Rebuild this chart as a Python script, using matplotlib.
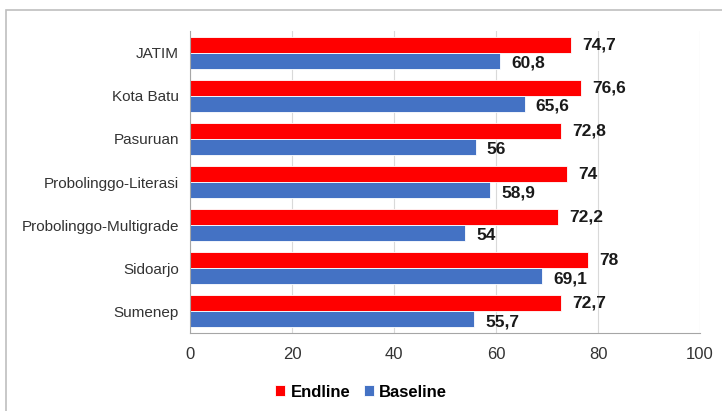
import numpy as np
import matplotlib.pyplot as plt
from matplotlib.patches import Rectangle

plt.rcParams['font.family'] = ['Liberation Sans', 'DejaVu Sans']

categories = ['JATIM', 'Kota Batu', 'Pasuruan', 'Probolinggo-Literasi',
              'Probolinggo-Multigrade', 'Sidoarjo', 'Sumenep']
endline = [74.7, 76.6, 72.8, 74, 72.2, 78, 72.7]
baseline = [60.8, 65.6, 56, 58.9, 54, 69.1, 55.7]

red = '#ff0000'
blue = '#4472c4'

fig = plt.figure(figsize=(7.22, 4.11), dpi=100)
# outer frame of the original picture
fig.patches.append(Rectangle((6/722, -0.1), 1.2, 1 - 10/411 + 0.1, transform=fig.transFigure,
                             fill=False, edgecolor='#bfbfbf', linewidth=1.2))
ax = fig.add_axes([190/722, 1 - 333/411, 510/722, 302/411])

y = np.arange(len(categories))
h = 0.37
b1 = ax.barh(y - h/2, endline, height=h, color=red, edgecolor='white', linewidth=0.6, label='Endline')
b2 = ax.barh(y + h/2, baseline, height=h, color=blue, edgecolor='white', linewidth=0.6, label='Baseline')

def fmt(v):
    return ('%g' % v).replace('.', ',')

for bars, vals, dy in ((b1, endline, 0), (b2, baseline, -2)):
    for bar, v in zip(bars, vals):
        ax.annotate(fmt(v), (v, bar.get_y() + bar.get_height()/2), xytext=(8, dy),
                    textcoords='offset points', va='center', ha='left',
                    fontsize=12.5, fontweight='bold', color='#1a1a1a')

ax.set_ylim(len(categories) - 0.5, -0.5)
ax.set_xlim(0, 100)
ax.set_xticks(range(0, 101, 20))
ax.set_yticks(y)
ax.set_yticklabels(categories, fontsize=11, color='#333333')
ax.tick_params(axis='x', labelsize=12, length=0, pad=10, colors='#333333')
ax.tick_params(axis='y', length=0, pad=8)
ax.grid(axis='x', color='#d9d9d9', linewidth=0.8)
ax.set_axisbelow(True)
for s in ['top', 'right']:
    ax.spines[s].set_visible(False)
for s in ['left', 'bottom']:
    ax.spines[s].set_color('#a6a6a6')

fig.legend(handles=[b1, b2], loc='center', bbox_to_anchor=(0.5, 1 - 392/411), ncol=2,
           frameon=False, handlelength=0.6, handleheight=0.6, handletextpad=0.3,
           columnspacing=0.8, prop={'weight': 'bold', 'size': 12})

fig.savefig('out.png', dpi=100)
